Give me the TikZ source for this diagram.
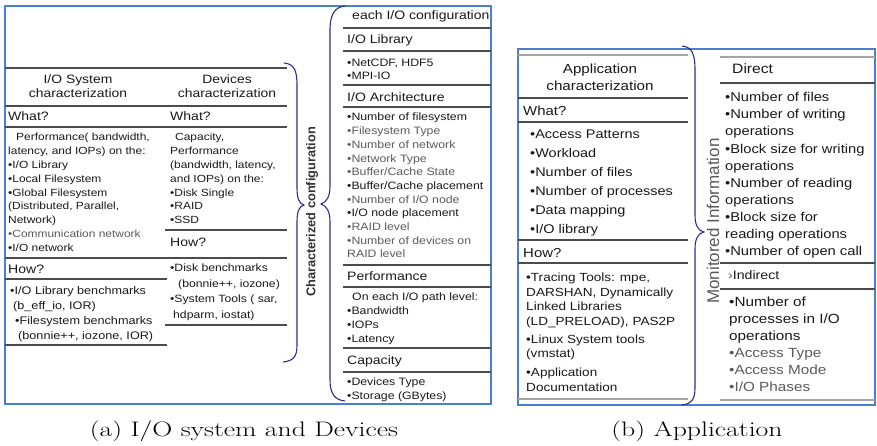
\documentclass[tikz,border=0pt]{standalone}
\usepackage{fontspec}
\usepackage{graphicx}
\usepackage{tikz}
\newfontfamily\lsans{Liberation Sans}
\newfontfamily\wfont[FakeStretch=1.15]{Liberation Sans}
\definecolor{frameblue}{RGB}{74,126,206}
\definecolor{bracenavy}{RGB}{45,45,140}
\definecolor{rulegray}{RGB}{75,75,75}
\definecolor{rulelight}{RGB}{165,165,165}
\definecolor{textdark}{RGB}{25,25,25}
\definecolor{textgray}{RGB}{90,90,90}
\newcommand{\fsz}[2]{\wfont\fontsize{#1}{#2}\selectfont}
\newcommand{\gr}[1]{{\color{textgray}#1}}

\begin{document}
\begin{tikzpicture}[x=1pt,y=-1pt,
  every node/.style={inner sep=0pt,text=textdark},
  sep/.style={rulegray,line width=1.1pt},
  sepl/.style={rulelight,line width=1.1pt},
  panel/.style={frameblue,line width=1.2pt},
  brace/.style={bracenavy,line width=1.1pt},
  blk/.style={anchor=north west,align=left},
  hd/.style={anchor=west},
  subcap/.style={font=\rmfamily\fontsize{21}{25}\selectfont,text=black}]
\useasboundingbox (0,0) rectangle (877,446);

% (a) frame, rules and braces
\draw [panel] (5,6) rectangle (491,404);
\draw [sep] (5,68) -- (287,68);
\draw [sep] (5,106) -- (287,106);
\draw [sep] (5,127) -- (287,127);
\draw [sep] (5,258) -- (287,258);
\draw [sep] (5,279) -- (167,279);
\draw [sep] (5,345) -- (167,345);
\draw [sep] (165,230) -- (287,230);
\draw [sep] (165,325) -- (287,325);
\foreach \yy in {28,51,85,107,265,287,348,372}
  \draw [sep] (343,\yy) -- (491,\yy);
\draw [brace] (284,63) .. controls (294,64) and (297,70) .. (297,85) -- (297,188)
  .. controls (297,198) and (299,204) .. (304,205) .. controls (299,206) and (297,212) .. (297,222)
  -- (297,345) .. controls (297,356) and (294,361) .. (283,362);
\draw [brace] (345,6) .. controls (335,7) and (330,14) .. (330,30) -- (330,186)
  .. controls (330,196) and (327,202) .. (321,204) .. controls (327,206) and (330,212) .. (330,222)
  -- (330,380) .. controls (330,394) and (335,400) .. (345,401);

% (a) I/O system column
\node (syshdr) at (78,86) [align=center,font=\fsz{12.1}{14.5}] {I/O System\\characterization};
\node (syswhat) at (8,116) [hd,font=\fsz{12.2}{14}] {What?};
\node (sysbody) at (8,133.2) [blk,font=\fsz{10.4}{13.8}] {\hspace{8pt}Performance( bandwidth,\\latency, and IOPs) on the:\\•I/O Library\\•Local Filesystem\\•Global Filesystem\\(Distributed, Parallel,\\Network)\\\gr{•Communication network}\\•I/O network};
\node (syshow) at (8,269) [hd,font=\fsz{12.2}{14}] {How?};
\node (syshowbody) at (10,286) [blk,font=\fsz{11}{15}] {•I/O Library benchmarks\\\hspace{3pt}(b\_eff\_io, IOR)\\\hspace{5pt}•Filesystem benchmarks\\\hspace{8pt}(bonnie++, iozone, IOR)};

% (a) devices column
\node (devhdr) at (227,86) [align=center,font=\fsz{12.1}{14.5}] {Devices\\characterization};
\node (devwhat) at (170,116) [hd,font=\fsz{12.2}{14}] {What?};
\node (devbody) at (170,133.2) [blk,font=\fsz{10.4}{13.8}] {\hspace{5pt}Capacity,\\Performance\\(bandwidth, latency,\\and IOPs) on the:\\•Disk Single\\•RAID\\•SSD};
\node (devhow) at (170,242) [hd,font=\fsz{12.2}{14}] {How?};
\node (devhowbody) at (170,264) [blk,font=\fsz{10.6}{15.5}] {•Disk benchmarks\\\hspace{8pt}(bonnie++, iozone)\\•System Tools ( sar,\\\hspace{3pt}hdparm, iostat)};

\node (charlbl) at (312,212) [rotate=90,font=\lsans\bfseries\fontsize{12.8}{14}\selectfont,text=black!80] {Characterized configuration};

% (a) configuration column
\node (cfgtitle) at (352,16) [hd,font=\fsz{12.2}{14}] {each I/O configuration};
\node (libhd) at (347,40) [hd,font=\fsz{12.2}{14}] {I/O Library};
\node (libbody) at (347,59) [blk,font=\fsz{10.7}{12.5}] {•NetCDF, HDF5\\•MPI-IO};
\node (archhd) at (347,97) [hd,font=\fsz{12.2}{14}] {I/O Architecture};
\node (archbody) at (347,113) [blk,font=\fsz{10.7}{13.7}] {•Number of filesystem\\\gr{•Filesystem Type}\\\gr{•Number of network}\\\gr{•Network Type}\\\gr{•Buffer/Cache State}\\•Buffer/Cache placement\\\gr{•Number of I/O node}\\•I/O node placement\\\gr{•RAID level}\\\gr{•Number of devices on}\\\gr{RAID level}};
\node (perfhd) at (347,276) [hd,font=\fsz{12.2}{14}] {Performance};
\node (perfbody) at (347,293) [blk,font=\fsz{10.7}{13.7}] {\hspace{5pt}On each I/O path level:\\•Bandwidth\\•IOPs\\•Latency};
\node (caphd) at (347,361) [hd,font=\fsz{12.2}{14}] {Capacity};
\node (capbody) at (347,378) [blk,font=\fsz{10.7}{14}] {•Devices Type\\•Storage (GBytes)};

% (b) frame, rules and brace
\draw [panel] (518,49) rectangle (875,405);
\draw [sepl] (518,55) -- (688,55);
\draw [sep] (518,98) -- (688,98);
\draw [sep] (518,122) -- (688,122);
\draw [sep] (518,240) -- (688,240);
\draw [sep] (518,263) -- (688,263);
\draw [sepl] (518,399) -- (688,399);
\draw [sepl] (720,57) -- (875,57);
\draw [sep] (720,83) -- (875,83);
\draw [sep] (720,263) -- (875,263);
\draw [sep] (720,289) -- (875,289);
\draw [sepl] (720,400) -- (875,400);
\draw [brace] (682,46) .. controls (692,47) and (695,54) .. (695,70) -- (695,215)
  .. controls (695,225) and (698,231) .. (704,232) .. controls (698,233) and (695,239) .. (695,249)
  -- (695,388) .. controls (695,400) and (691,404) .. (682,405);

% (b) application column
\node (apphdr) at (600,77) [align=center,font=\fsz{13.2}{17}] {Application\\characterization};
\node (appwhat) at (523,111) [hd,font=\fsz{13}{15}] {What?};
\node (appbody) at (530,129.3) [blk,font=\fsz{12.6}{19}] {•Access Patterns\\•Workload\\•Number of files\\•Number of processes\\•Data mapping\\•I/O library};
\node (apphow) at (523,253) [hd,font=\fsz{13}{15}] {How?};
\node (apphowbody) at (526,272.6) [blk,font=\fsz{11.8}{14.7}] {•Tracing Tools: mpe,\\DARSHAN, Dynamically\\Linked Libraries\\(LD\_PRELOAD), PAS2P\\[3pt]•Linux System tools\\(vmstat)\\[4pt]•Application\\Documentation};

\node (monlbl) at (713,221) [rotate=90,font=\lsans\fontsize{17}{19}\selectfont,text=textgray] {Monitored Information};

% (b) monitored information column
\node (dirhd) at (732,69) [hd,font=\fsz{13.6}{15}] {Direct};
\node (dirbody) at (725,92.3) [blk,font=\fsz{12.8}{17.1}] {•Number of files\\•Number of writing\\operations\\•Block size for writing\\operations\\•Number of reading\\operations\\•Block size for\\reading operations\\•Number of open call};
\node (indhd) at (728,275) [hd,font=\fsz{12.3}{14}] {\gr{›}Indirect};
\node (indbody) at (729,297.1) [blk,font=\fsz{13.3}{17}] {•Number of\\processes in I/O\\operations\\\gr{•Access Type}\\\gr{•Access Mode}\\\gr{•I/O Phases}};

% captions
\node (capa) at (244,431) [subcap] {\scalebox{1.32}[1]{(a) I/O system and Devices}};
\node (capb) at (697,431) [subcap] {\scalebox{1.32}[1]{(b) Application}};
\end{tikzpicture}
\end{document}
